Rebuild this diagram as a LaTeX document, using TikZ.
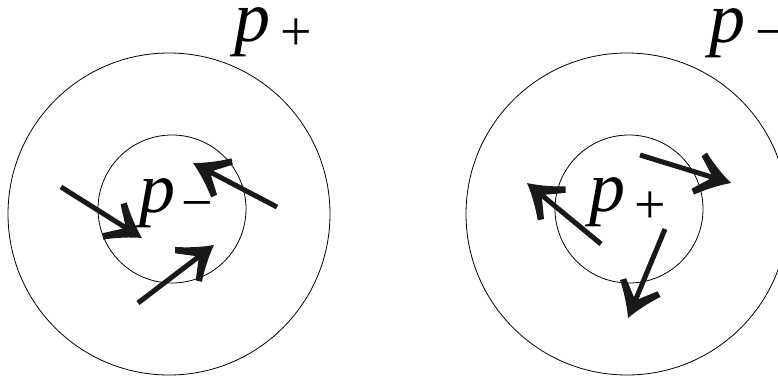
\documentclass[tikz,border=0pt]{standalone}
\usepackage{fontspec}
\setmainfont{Liberation Serif}
\usetikzlibrary{arrows.meta}
\pgfdeclarearrow{
  name = Swoosh,
  setup code = {
    \pgfarrowssettipend{0pt}
    \pgfarrowssetlineend{-15pt}
    \pgfarrowssetbackend{-36pt}
    \pgfarrowssetvisualbackend{-19pt}
    \pgfarrowshullpoint{0pt}{0pt}
    \pgfarrowsupperhullpoint{-36pt}{22pt}
  },
  drawing code = {
    \pgfpathmoveto{\pgfqpoint{0pt}{0pt}}
    \pgfpathcurveto{\pgfqpoint{-10pt}{5pt}}{\pgfqpoint{-23pt}{14pt}}{\pgfqpoint{-32pt}{22pt}}
    \pgfpathlineto{\pgfqpoint{-36pt}{17pt}}
    \pgfpathcurveto{\pgfqpoint{-29pt}{10pt}}{\pgfqpoint{-23pt}{4pt}}{\pgfqpoint{-19pt}{0pt}}
    \pgfpathcurveto{\pgfqpoint{-23pt}{-4pt}}{\pgfqpoint{-29pt}{-10pt}}{\pgfqpoint{-36pt}{-17pt}}
    \pgfpathlineto{\pgfqpoint{-32pt}{-22pt}}
    \pgfpathcurveto{\pgfqpoint{-23pt}{-14pt}}{\pgfqpoint{-10pt}{-5pt}}{\pgfqpoint{0pt}{0pt}}
    \pgfpathclose
    \pgfusepathqfill
  }
}
\begin{document}
\begin{tikzpicture}[x=1pt,y=-1pt,
  ring/.style={draw, line width=0.8pt},
  flow/.style={line width=5pt, draw=black!90, -{Swoosh}},
  bigp/.style={inner sep=0pt, anchor=base west, text height=33pt, text depth=15pt,
    font=\fontsize{72}{72}\selectfont\itshape},
  subs/.style={inner sep=0pt, anchor=base west, text height=28pt, text depth=2pt,
    font=\fontsize{56}{56}\selectfont}]
\useasboundingbox (0,0) rectangle (778,380);
% left diagram
\draw[ring] (169,214) circle[radius=161];
\draw[ring] (172,209) circle[radius=74];
\node[bigp] (pL) at (234,41) {p};
\node[subs] (sL) at (280,50) {+};
\node[bigp] (pLc) at (139,212) {p};
\node[subs] (sLc) at (181,221) {−};
\coordinate (a1s) at (61,187);  \coordinate (a1e) at (142,238);
\coordinate (a2s) at (277,207); \coordinate (a2e) at (193,163);
\coordinate (a3s) at (138,303); \coordinate (a3e) at (214,245);
\draw[flow] (a1s) -- (a1e);
\draw[flow] (a2s) -- (a2e);
\draw[flow] (a3s) -- (a3e);
% right diagram
\draw[ring] (627,214) circle[radius=161];
\draw[ring] (629,209) circle[radius=74];
\node[bigp] (pR) at (709,42) {p};
\node[subs] (sR) at (755,50) {−};
\node[bigp] (pRc) at (589,211) {p};
\node[subs] (sRc) at (634,223) {+};
\coordinate (a4s) at (601,244); \coordinate (a4e) at (527,183);
\coordinate (a5s) at (640,155); \coordinate (a5e) at (731,183);
\coordinate (a6s) at (665,229); \coordinate (a6e) at (628,318);
\draw[flow] (a4s) -- (a4e);
\draw[flow] (a5s) -- (a5e);
\draw[flow] (a6s) -- (a6e);
\end{tikzpicture}
\end{document}
